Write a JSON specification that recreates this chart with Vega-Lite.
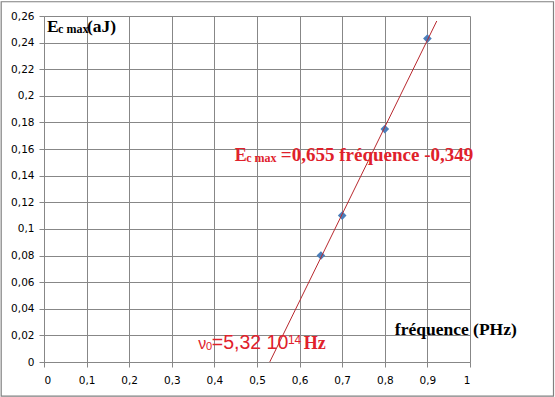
{
  "$schema": "https://vega.github.io/schema/vega-lite/v6.json",
  "autosize": {"type": "none"},
  "width": 426,
  "height": 346,
  "padding": {"left": 44, "top": 16, "right": 85, "bottom": 35},
  "background": "white",
  "config": {
    "view": {"stroke": null},
    "axis": {
      "gridColor": "#878787",
      "gridOpacity": 1,
      "gridWidth": 1,
      "domainColor": "#878787",
      "tickColor": "#878787",
      "tickSize": 5,
      "labelFont": "DejaVu Sans",
      "labelFontSize": 10.5,
      "labelColor": "#000000",
      "labelOverlap": false,
      "title": null
    }
  },
  "encoding": {
    "x": {"field": "x", "type": "quantitative",
      "scale": {"domain": [0, 1], "nice": false, "zero": true},
      "axis": {"values": [0, 0.1, 0.2, 0.3, 0.4, 0.5, 0.6, 0.7, 0.8, 0.9, 1], "labelPadding": 8,
        "labelExpr": "replace(format(datum.value, '~g'), '.', ',')"}},
    "y": {"field": "y", "type": "quantitative",
      "scale": {"domain": [0, 0.26], "nice": false, "zero": true},
      "axis": {"values": [0, 0.02, 0.04, 0.06, 0.08, 0.1, 0.12, 0.14, 0.16, 0.18, 0.2, 0.22, 0.24, 0.26], "labelPadding": 5,
        "labelExpr": "replace(format(datum.value, '~g'), '.', ',')"}}
  },
  "layer": [
    {
      "data": {"values": [{"x": 0.65, "y": 0.08}, {"x": 0.7, "y": 0.11}, {"x": 0.8, "y": 0.175}, {"x": 0.9, "y": 0.243}]},
      "mark": {"type": "point", "shape": "diamond", "filled": true, "opacity": 1, "color": "#4a7ebb", "size": 75}
    },
    {
      "data": {"values": [{"x": 0.65, "y": 0.08}, {"x": 0.7, "y": 0.11}, {"x": 0.8, "y": 0.175}, {"x": 0.9, "y": 0.243}]},
      "transform": [{"regression": "y", "on": "x", "extent": [0.53, 0.922]}],
      "mark": {"type": "line", "color": "#b8282e", "strokeWidth": 1}
    },
    {
      "data": {"values": [{"x": -0.1005, "x2": 1.196, "y": 0.2707, "y2": -0.0257}]},
      "mark": {"type": "rect", "fill": "transparent", "stroke": "#808080", "strokeWidth": 1.2, "clip": false},
      "encoding": {
        "x2": {"field": "x2"},
        "y2": {"field": "y2"}
      }
    },
    {
      "data": {"values": [{"x": 0.00705, "y": 0.2483, "t": "E"}, {"x": 0.101, "y": 0.2483, "t": "(aJ)"}, {"x": 0.8236, "y": 0.0205, "t": "fréquence (PHz)"}]},
      "mark": {"type": "text", "align": "left", "baseline": "alphabetic", "font": "Liberation Serif", "fontWeight": "bold", "fontSize": 17.5, "color": "#000000", "clip": false},
      "encoding": {"text": {"field": "t"}}
    },
    {
      "data": {"values": [{"x": 0.033, "y": 0.2475, "t": "c max"}]},
      "mark": {"type": "text", "align": "left", "baseline": "alphabetic", "font": "Liberation Serif", "fontWeight": "bold", "fontSize": 12, "color": "#000000"},
      "encoding": {"text": {"field": "t"}}
    },
    {
      "data": {"values": [{"x": 0.448, "y": 0.1509, "t": "E"}, {"x": 0.61, "y": 0.0095, "t": "Hz"}]},
      "mark": {"type": "text", "align": "left", "baseline": "alphabetic", "font": "Liberation Serif", "fontWeight": "bold", "fontSize": 18, "color": "#e0212b", "clip": false},
      "encoding": {"text": {"field": "t"}}
    },
    {
      "data": {"values": [{"x": 0.556, "y": 0.1509, "t": "=0,655 fréquence -0,349"}]},
      "mark": {"type": "text", "align": "left", "baseline": "alphabetic", "font": "Liberation Serif", "fontWeight": "bold", "fontSize": 19, "color": "#e0212b", "clip": false},
      "encoding": {"text": {"field": "t"}}
    },
    {
      "data": {"values": [{"x": 0.4745, "y": 0.1502, "t": "c max"}]},
      "mark": {"type": "text", "align": "left", "baseline": "alphabetic", "font": "Liberation Serif", "fontWeight": "bold", "fontSize": 12, "color": "#e0212b"},
      "encoding": {"text": {"field": "t"}}
    },
    {
      "data": {"values": [{"x": 0.3618, "y": 0.0095, "t": "ν"}]},
      "mark": {"type": "text", "align": "left", "baseline": "alphabetic", "font": "Liberation Sans", "fontSize": 16, "color": "#e0212b"},
      "encoding": {"text": {"field": "t"}}
    },
    {
      "data": {"values": [{"x": 0.394, "y": 0.0095, "t": "=5,32 10"}]},
      "mark": {"type": "text", "align": "left", "baseline": "alphabetic", "font": "Liberation Sans", "fontSize": 19.5, "color": "#e0212b"},
      "encoding": {"text": {"field": "t"}}
    },
    {
      "data": {"values": [{"x": 0.3805, "y": 0.0087, "t": "0"}]},
      "mark": {"type": "text", "align": "left", "baseline": "alphabetic", "font": "Liberation Sans", "fontSize": 11, "color": "#e0212b"},
      "encoding": {"text": {"field": "t"}}
    },
    {
      "data": {"values": [{"x": 0.5725, "y": 0.0138, "t": "14"}]},
      "mark": {"type": "text", "align": "left", "baseline": "alphabetic", "font": "Liberation Sans", "fontSize": 12, "color": "#e0212b"},
      "encoding": {"text": {"field": "t"}}
    }
  ]
}
